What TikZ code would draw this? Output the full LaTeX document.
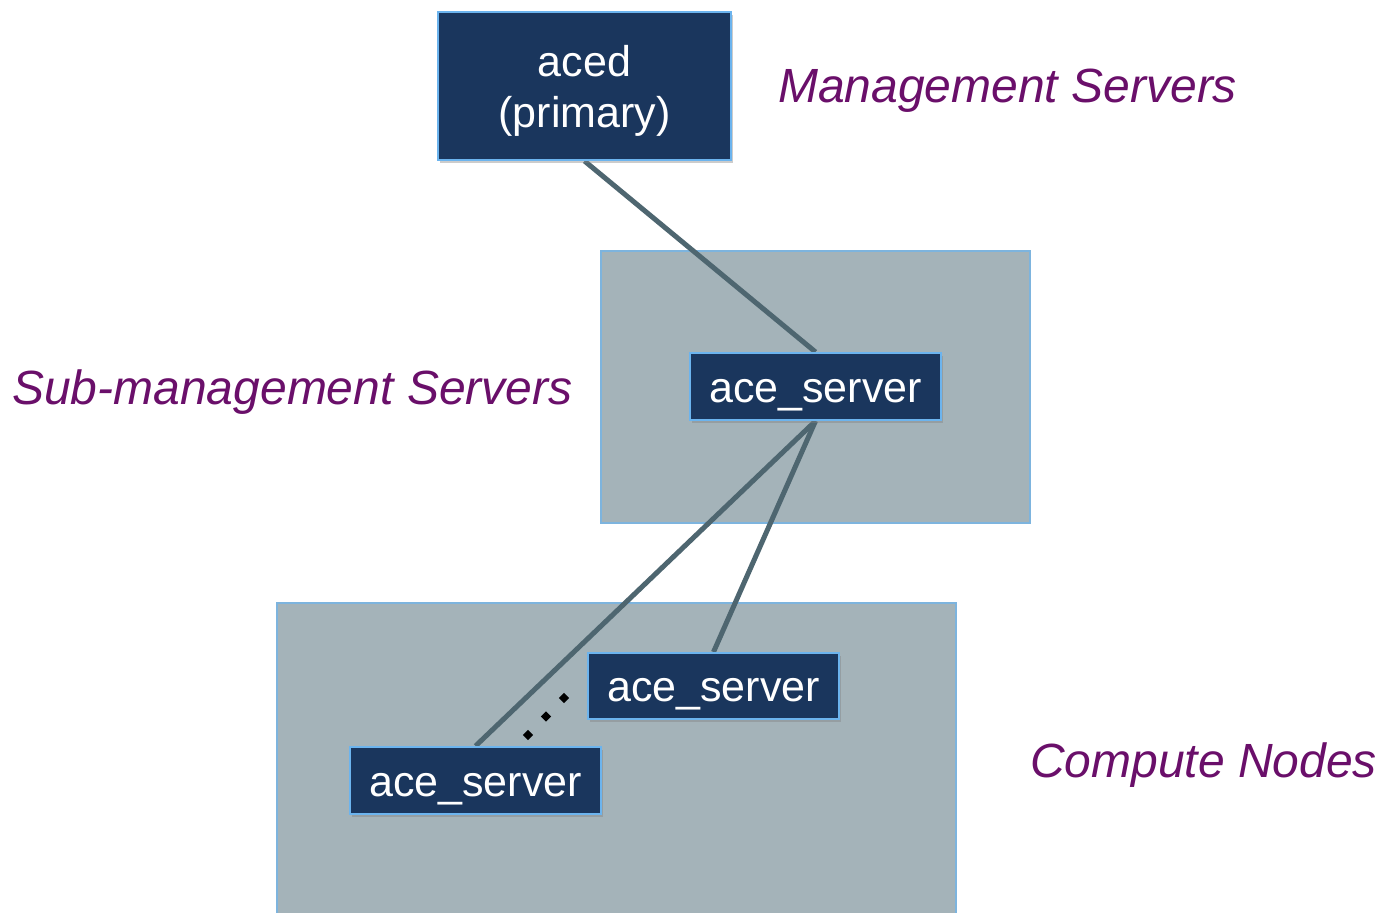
\documentclass[tikz,border=0pt]{standalone}
\usepackage{fontspec}
\setmainfont{Liberation Sans}
\usetikzlibrary{shadows,shapes.geometric}
\definecolor{boxfill}{HTML}{1A365D}
\definecolor{boxedge}{HTML}{6CB4EE}
\definecolor{regionfill}{HTML}{A4B3B9}
\definecolor{linkcol}{HTML}{4E6670}
\definecolor{labelcol}{HTML}{6A0F6A}
\pgfdeclarelayer{regions}
\pgfdeclarelayer{links}
\pgfsetlayers{regions,links,main}
\newcommand\srvtab[1]{\begin{tabular}{@{}c@{}}#1\end{tabular}}
\newcommand\srvlines[1]{\vphantom{\srvtab{#1}}\raisebox{-5.5pt}{\smash{\srvtab{#1}}}}
\begin{document}
\begin{tikzpicture}[x=1pt,y=-1pt,
  srvbox/.style={draw=boxedge,line width=2pt,fill=boxfill,text=white,inner sep=0pt,
    font=\fontsize{43}{51}\selectfont,
    drop shadow={shadow xshift=2pt,shadow yshift=-3pt,opacity=0.4}},
  region/.style={draw=boxedge!70!regionfill,line width=1.2pt,fill=regionfill},
  link/.style={draw=linkcol,line width=5pt},
  tier/.style={text=labelcol,font=\fontsize{48}{54}\selectfont\itshape,inner sep=0pt},
  dotmark/.style={diamond,fill=black,inner sep=0pt,minimum size=10.5pt}]
\useasboundingbox (0,0) rectangle (1379,913);
% server boxes
\node[srvbox,minimum width=293pt,minimum height=148pt] (aced) at (584.5,86) {\srvlines{aced\\(primary)}};
\node[srvbox,minimum width=251pt,minimum height=67pt] (mid) at (815.5,386.5) {\srvlines{ace\_server}};
\node[srvbox,minimum width=251pt,minimum height=66pt] (right) at (713.5,686) {\srvlines{ace\_server}};
\node[srvbox,minimum width=251pt,minimum height=67pt] (left) at (475.5,780.5) {\srvlines{ace\_server}};
% background and regions
\begin{pgfonlayer}{regions}
\fill[white] (0,0) rectangle (1379,913);
\draw[region] (601,251) rectangle (1030,523);
\draw[region] (277,603) rectangle (956,930);
\end{pgfonlayer}
% links
\begin{pgfonlayer}{links}
\draw[link] (aced.south) -- (mid.north);
\draw[link] (mid.south) -- (left.north);
\draw[link] (mid.south) -- (right.north);
\end{pgfonlayer}
% ellipsis dots
\node[dotmark] (d1) at (528,735) {};
\node[dotmark] (d2) at (546,716.5) {};
\node[dotmark] (d3) at (564,698) {};
% tier labels
\node[tier,anchor=west] (lm) at (778,91) {Management Servers};
\node[tier,anchor=west] (ls) at (12,392) {Sub-management Servers};
\node[tier,anchor=west] (lc) at (1030,765) {Compute Nodes};
\end{tikzpicture}
\end{document}
